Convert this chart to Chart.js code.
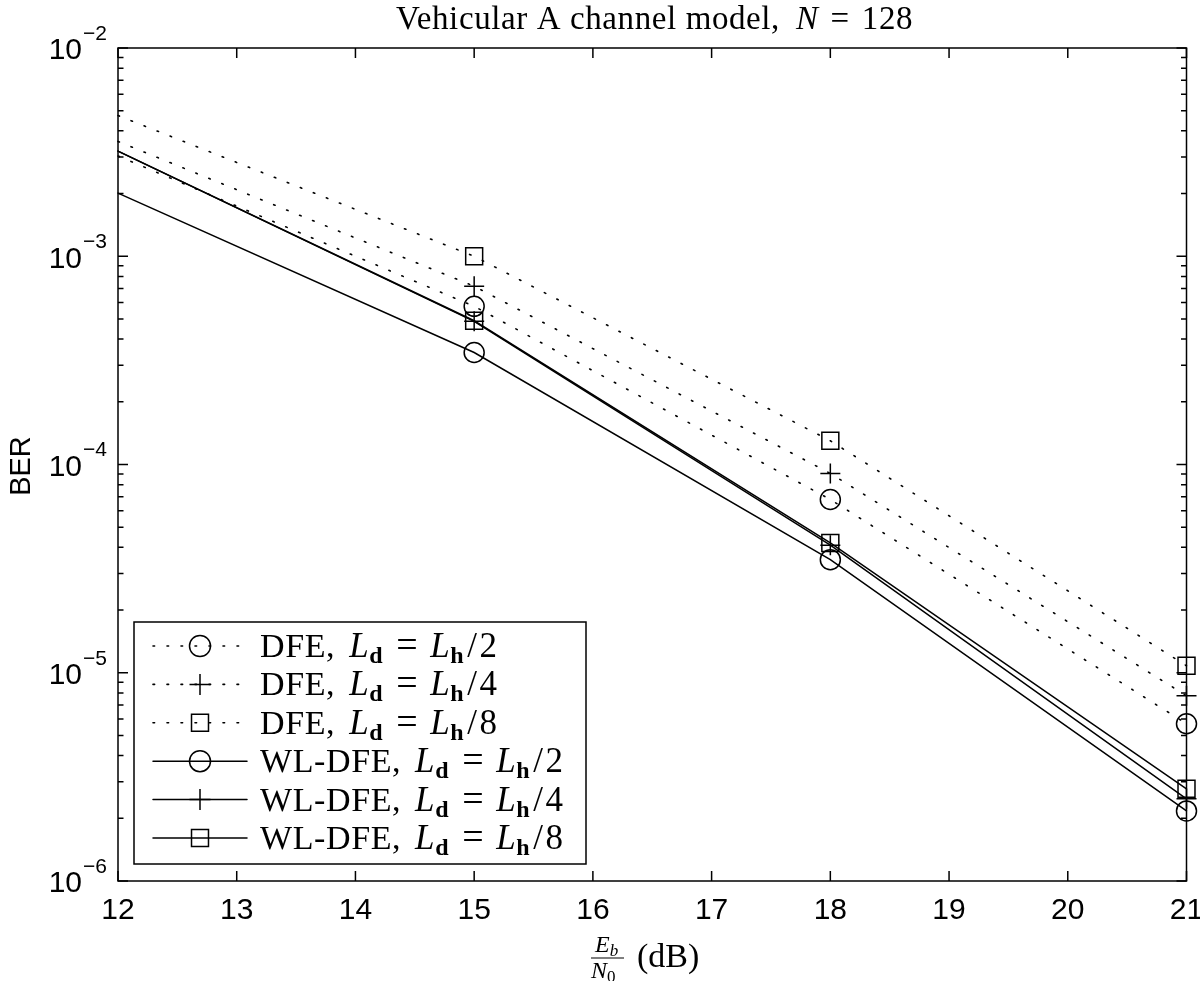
<!DOCTYPE html>
<html>
<head>
<meta charset="utf-8">
<script src="https://cdn.jsdelivr.net/npm/chart.js@4.4.1/dist/chart.umd.min.js"></script>
<style>
  html, body { margin: 0; padding: 0; background: #fff; }
  #wrap { width: 1200px; height: 981px; }
</style>
</head>
<body>
<div id="wrap"><canvas id="grafico" width="1200" height="981"></canvas></div>
<script>
// valores
const snr = [12, 15, 18, 21];
const dfeMeio = [3.03e-3, 5.75e-4, 6.79e-5, 5.69e-6];
const dfeQuarto = [3.56e-3, 7.18e-4, 9.06e-5, 7.75e-6];
const dfeOitavo = [4.74e-3, 1.0e-3, 1.30e-4, 1.08e-5];
const wlMeio = [2.01e-3, 3.45e-4, 3.49e-5, 2.17e-6];
const wlQuarto = [3.2e-3, 4.87e-4, 4.1e-5, 2.48e-6];
const wlOitavo = [3.2e-3, 4.9e-4, 4.2e-5, 2.77e-6];
const xTicks = [12, 13, 14, 15, 16, 17, 18, 19, 20, 21];
const yDecadas = [-2, -3, -4, -5, -6];
const legendas = ['DFE', 'DFE', 'DFE', 'WL-DFE', 'WL-DFE', 'WL-DFE'];
const divisores = ['2', '4', '8', '2', '4', '8'];

const SERIF = '"Liberation Serif", "DejaVu Serif", serif';
const SANS = '"Liberation Sans", Arial, sans-serif';

function pontos(ys) { return snr.map((x, i) => ({ x: x, y: ys[i] })); }

function serie(ys, estilo, pontilhado, raio) {
    return {
        data: pontos(ys),
        borderColor: '#000',
        borderWidth: pontilhado ? 1.6 : 1.5,
        borderDash: pontilhado ? [1.6, 12.4] : [],
        borderCapStyle: 'round',
        pointStyle: estilo,
        pointRadius: [0, raio, raio, raio],
        pointBorderColor: '#000',
        pointBackgroundColor: 'rgba(0,0,0,0)',
        pointBorderWidth: 1.5,
        tension: 0,
        fill: false,
        clip: false
    };
}

// texto com partes de fontes diferentes
function textoRico(ctx, partes, x, y) {
    let cx = x;
    partes.forEach(p => {
        ctx.font = p.f;
        ctx.fillText(p.t, cx, y + (p.dy || 0));
        cx += ctx.measureText(p.t).width + (p.gap || 0);
    });
    return cx;
}

function desenharMarcador(ctx, estilo, x, y, raio) {
    ctx.save();
    ctx.fillStyle = 'rgba(0,0,0,0)';
    ctx.strokeStyle = '#000';
    ctx.lineWidth = 1.5;
    Chart.helpers.drawPoint(ctx, { pointStyle: estilo, radius: raio, borderWidth: 1.5 }, x, y);
    ctx.restore();
}

const moldura = {
    id: 'moldura',
    afterDraw(chart) {
        const ctx = chart.ctx;
        const a = chart.chartArea;
        const sx = chart.scales.x, sy = chart.scales.y;
        ctx.save();
        ctx.strokeStyle = '#000';
        ctx.fillStyle = '#000';
        ctx.lineWidth = 1.5;
        ctx.strokeRect(a.left, a.top, a.right - a.left, a.bottom - a.top);

        // ticks do eixo x (para dentro, em baixo e em cima)
        ctx.beginPath();
        xTicks.forEach(v => {
            const px = sx.getPixelForValue(v);
            ctx.moveTo(px, a.bottom); ctx.lineTo(px, a.bottom - 10);
            ctx.moveTo(px, a.top); ctx.lineTo(px, a.top + 10);
        });
        // ticks do eixo y (décadas e menores)
        yDecadas.forEach(d => {
            for (let m = 1; m <= 9; m++) {
                const v = m * Math.pow(10, d);
                if (v > 1.0001e-2) continue;
                const py = sy.getPixelForValue(v);
                const len = m === 1 ? 10 : 5.5;
                ctx.moveTo(a.left, py); ctx.lineTo(a.left + len, py);
                ctx.moveTo(a.right, py); ctx.lineTo(a.right - len, py);
            }
        });
        ctx.stroke();

        // rótulos x
        ctx.font = '30px ' + SANS;
        ctx.textAlign = 'center';
        ctx.textBaseline = 'middle';
        xTicks.forEach(v => ctx.fillText(String(v), sx.getPixelForValue(v), 911));

        // rótulos y: 10^d
        yDecadas.forEach(d => {
            const py = sy.getPixelForValue(Math.pow(10, d));
            ctx.textAlign = 'right';
            ctx.font = '30px ' + SANS;
            ctx.fillText('10', 82, py + 3);
            ctx.textAlign = 'left';
            ctx.font = '21px ' + SANS;
            ctx.fillText('\u2212' + String(-d), 83, py - 14);
        });

        // rótulo y
        ctx.save();
        ctx.translate(22, 466);
        ctx.rotate(-Math.PI / 2);
        ctx.textAlign = 'center';
        ctx.font = '29px ' + SANS;
        ctx.fillText('BER', 0, 0);
        ctx.restore();

        // título
        ctx.textAlign = 'left';
        ctx.textBaseline = 'alphabetic';
        const tit = [
            { t: 'Vehicular A channel model,', f: '33px ' + SERIF, gap: 16 },
            { t: 'N', f: 'italic 33px ' + SERIF, gap: 12 },
            { t: '=', f: '33px ' + SERIF, gap: 12 },
            { t: '128', f: '33px ' + SERIF }
        ];
        ctx.letterSpacing = '0.6px';
        textoRico(ctx, tit, 396, 29);
        ctx.letterSpacing = '0px';

        // rótulo x: Eb/N0 (dB)
        const fx = 591;
        textoRico(ctx, [{ t: 'E', f: 'italic 24px ' + SERIF }, { t: 'b', f: 'italic 17px ' + SERIF, dy: 4 }], fx + 4, 952);
        textoRico(ctx, [{ t: 'N', f: 'italic 24px ' + SERIF }, { t: '0', f: '17px ' + SERIF, dy: 4 }], fx, 978);
        ctx.beginPath();
        ctx.lineWidth = 1.2;
        ctx.moveTo(fx, 958); ctx.lineTo(fx + 33, 958);
        ctx.stroke();
        ctx.font = '34px ' + SERIF;
        ctx.fillText('(dB)', 637, 967);

        // legenda
        const lx = 134, ly = 622, lw = 452, lh = 242;
        ctx.fillStyle = '#fff';
        ctx.fillRect(lx, ly, lw, lh);
        ctx.lineWidth = 1.5;
        ctx.strokeRect(lx, ly, lw, lh);
        ctx.fillStyle = '#000';
        chart.data.datasets.forEach((ds, i) => {
            const cy = 646 + i * 38.4;
            ctx.save();
            ctx.strokeStyle = '#000';
            ctx.lineWidth = ds.borderWidth;
            ctx.setLineDash(ds.borderDash);
            ctx.lineCap = 'round';
            ctx.beginPath();
            ctx.moveTo(153, cy); ctx.lineTo(247, cy);
            ctx.stroke();
            ctx.restore();
            desenharMarcador(ctx, ds.pointStyle, 200, cy, i % 3 === 2 ? 12 : 10.5);
            ctx.fillStyle = '#000';
            const partes = [
                { t: legendas[i] + ',', f: '34px ' + SERIF, gap: 14 },
                { t: 'L', f: 'italic 35px ' + SERIF, gap: 0 },
                { t: 'd', f: 'bold 24px ' + SERIF, dy: 6, gap: 13 },
                { t: '=', f: '38px ' + SERIF, gap: 12 },
                { t: 'L', f: 'italic 35px ' + SERIF, gap: 0 },
                { t: 'h', f: 'bold 24px ' + SERIF, dy: 6, gap: 3 },
                { t: '/', f: '35px ' + SERIF, gap: 2 },
                { t: divisores[i], f: '35px ' + SERIF }
            ];
            ctx.textBaseline = 'alphabetic';
            ctx.letterSpacing = '0.6px';
            textoRico(ctx, partes, 260, cy + 11);
            ctx.letterSpacing = '0px';
        });
        ctx.restore();
    }
};

const ctx = document.getElementById('grafico').getContext('2d');
const grafico = new Chart(ctx, {
    type: 'line',
    data: {
        datasets: [
            serie(dfeMeio, 'circle', true, 10),
            serie(dfeQuarto, 'cross', true, 10),
            serie(dfeOitavo, 'rect', true, 12),
            serie(wlMeio, 'circle', false, 10),
            serie(wlQuarto, 'cross', false, 10),
            serie(wlOitavo, 'rect', false, 12)
        ]
    },
    options: {
        responsive: false,
        animation: false,
        layout: { padding: { left: 118, right: 12, top: 48, bottom: 100 } },
        plugins: { legend: { display: false }, tooltip: { enabled: false } },
        scales: {
            x: { type: 'linear', min: 12, max: 21, display: false },
            y: { type: 'logarithmic', min: 1e-6, max: 1e-2, display: false }
        }
    },
    plugins: [moldura]
});
</script>
</body>
</html>
